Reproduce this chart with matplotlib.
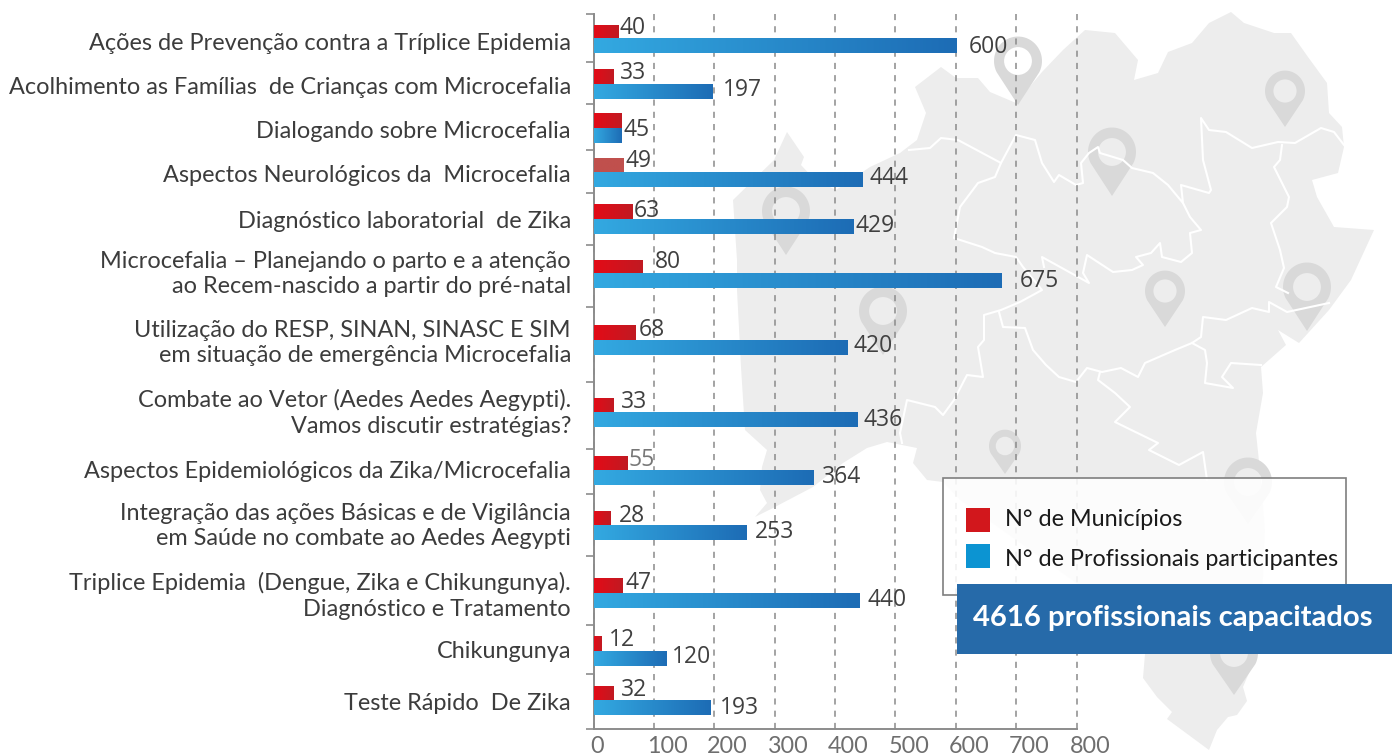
import numpy as np
import matplotlib
matplotlib.use('Agg')
import matplotlib.pyplot as plt
from matplotlib.patches import Polygon, Rectangle, PathPatch
from matplotlib.path import Path
from matplotlib.transforms import ScaledTranslation

W, H = 1392, 756

# --- data ---
categories = [
    'Ações de Prevenção contra a Tríplice Epidemia',
    'Acolhimento as Famílias  de Crianças com Microcefalia',
    'Dialogando sobre Microcefalia',
    'Aspectos Neurológicos da  Microcefalia',
    'Diagnóstico laboratorial  de Zika',
    'Microcefalia – Planejando o parto e a atenção\nao Recem-nascido a partir do pré-natal',
    'Utilização do RESP, SINAN, SINASC E SIM\nem situação de emergência Microcefalia',
    'Combate ao Vetor (Aedes Aedes Aegypti).\nVamos discutir estratégias?',
    'Aspectos Epidemiológicos da Zika/Microcefalia',
    'Integração das ações Básicas e de Vigilância\nem Saúde no combate ao Aedes Aegypti',
    'Triplice Epidemia  (Dengue, Zika e Chikungunya).\nDiagnóstico e Tratamento',
    'Chikungunya',
    'Teste Rápido  De Zika',
]
municipios = [40, 33, 45, 49, 63, 80, 68, 33, 55, 28, 47, 12, 32]
profissionais = [600, 197, 45, 444, 429, 675, 420, 436, 364, 253, 440, 120, 193]
xticks = [0, 100, 200, 300, 400, 500, 600, 700, 800]

# layout, in pixels of the picture
red_top = [25, 69, 113, 158, 204, 260, 325, 398, 456, 511, 578, 636, 686]
blue_top = [38, 84, 128, 172, 219, 273, 340, 412, 470, 525, 593, 651, 700]
bar_h = 15
label_y = [43, 87, 131, 176, 221, 274, 343, 413, 471, 526, 596, 651, 703]
red_lab_x = [620, 620, 0, 625, 634, 655, 639, 621, 628, 619, 625, 609, 621]
red_lab_y = [28, 73, 0, 161, 211, 262, 330, 402, 460, 516, 583, 640, 690]
blue_lab_x = [969, 723, 624, 870, 856, 1020, 853, 863, 822, 755, 867, 672, 720]
blue_lab_y = [47, 90, 130, 178, 226, 281, 346, 420, 477, 532, 600, 657, 708]
separators = [14, 62, 104, 150, 193, 245, 307, 382, 449, 494, 556, 625, 674, 729]

# rough outline of the state map and its inner borders
map_x = [915, 941, 956, 978, 990, 1016, 1042, 1063, 1085, 1115, 1138, 1134, 1158, 1168, 1192,
         1209, 1231, 1244, 1274, 1291, 1308, 1327, 1329, 1342, 1344, 1338, 1312, 1317, 1334,
         1374, 1351, 1329, 1299, 1278, 1286, 1261, 1263, 1256, 1261, 1265, 1262, 1257, 1243, 1247,
         1237, 1228, 1217, 1209, 1167, 1172, 1157, 1143, 1145, 1100, 960, 943, 927, 913, 917, 887,
         867, 843, 813, 773, 755, 767, 760, 762, 767, 745, 741, 737, 737, 733, 774, 787, 804, 801,
         815, 836, 870, 900, 917, 926]
map_y = [87, 67, 78, 78, 92, 103, 72, 50, 30, 33, 60, 80, 73, 52, 43,
         23, 12, 23, 33, 33, 57, 83, 113, 127, 147, 173, 180, 197, 227,
         230, 280, 310, 343, 330, 345, 367, 393, 433, 480, 530, 600, 654, 687, 701,
         715, 717, 730, 750, 719, 712, 697, 678, 654, 600, 500, 482, 480, 463, 448, 442,
         448, 463, 487, 508, 517, 503, 490, 467, 450, 430, 367, 290, 260, 200, 160, 132, 157, 165,
         180, 190, 167, 153, 140, 113]
borders = [
    ([909, 930, 941, 958, 1001, 995, 978, 960, 954, 982, 995, 1016, 1023, 1042, 1020, 1001, 984, 984,
      978, 983, 967, 954, 943, 935, 907, 900, 902],
     [150, 148, 138, 140, 163, 177, 183, 207, 238, 247, 253, 257, 267, 290, 302, 310, 315, 340,
      347, 377, 375, 400, 415, 407, 400, 433, 443]),
    ([1001, 1016, 1035, 1042, 1054, 1059, 1076, 1083, 1081, 1089, 1098, 1100, 1123, 1132, 1153, 1168,
      1183, 1181, 1209, 1211, 1203, 1201, 1209, 1226, 1252, 1278, 1295, 1321, 1334, 1344],
     [163, 135, 140, 163, 182, 175, 185, 183, 163, 153, 147, 153, 160, 168, 173, 185,
      203, 185, 193, 190, 160, 118, 130, 132, 148, 142, 143, 128, 132, 145]),
    ([1282, 1280, 1274, 1289, 1287, 1271, 1280, 1284, 1276, 1288],
     [145, 160, 167, 197, 207, 223, 250, 268, 287, 293]),
    ([1183, 1190, 1201, 1190, 1192, 1181, 1162, 1160, 1151, 1136, 1143, 1132, 1113, 1087, 1083, 1089,
      1042, 1044],
     [203, 217, 230, 233, 253, 262, 257, 243, 253, 257, 265, 270, 272, 255, 273, 283,
      257, 267]),
    ([1329, 1287, 1269, 1269, 1252, 1226, 1203, 1201, 1192, 1175, 1145, 1138, 1121, 1102, 1087, 1076,
      1059, 1046, 1033, 1025, 1003, 999],
     [303, 312, 302, 312, 308, 320, 317, 337, 343, 350, 363, 377, 368, 372, 368, 382,
      377, 365, 350, 328, 327, 312]),
    ([1192, 1205, 1207, 1205, 1233, 1222, 1231, 1261],
     [343, 350, 363, 383, 388, 377, 363, 365]),
    ([1100, 1098, 1115, 1130, 1115, 1158, 1149, 1179, 1203, 1207],
     [372, 380, 393, 407, 422, 443, 450, 465, 452, 480]),
]
# pin tip x, tip y, width, height
pins = [(1018, 105, 48, 68), (1285, 127, 40, 56), (1112, 196, 48, 68), (786, 255, 48, 68),
        (1165, 327, 40, 56), (1307, 331, 48, 68), (883, 355, 48, 68), (1005, 474, 32, 44),
        (1248, 524, 48, 66), (1234, 695, 48, 66)]


def add_gradient_bar(ax, top, v, c0, c1):
    bar = ax.barh(top + bar_h / 2, v, height=bar_h, color=c1, zorder=3)[0]
    grad = np.linspace(0, 1, 128)[None, :, None]
    rgb = np.array(matplotlib.colors.to_rgb(c0)) * (1 - grad) + np.array(matplotlib.colors.to_rgb(c1)) * grad
    im = ax.imshow(rgb, extent=(0, v, top + bar_h, top), aspect='auto', zorder=3.1, interpolation='bilinear')
    im.set_clip_path(bar)


def pin_path(tx, ty, pw, ph):
    r = pw / 2
    cy = ty - ph + r
    t = np.linspace(-np.pi * 0.15, np.pi * 1.15, 40)
    xs = list(tx + r * np.cos(t)) + [tx, tx]
    ys = list(cy - r * 1.02 * np.sin(t)) + [ty, ty]
    codes = [Path.MOVETO] + [Path.LINETO] * 40 + [Path.CLOSEPOLY]
    outer = Path(np.column_stack([xs, ys]), codes)
    hole = Path.circle((tx, cy), r * 0.58)
    return Path.make_compound_path(outer, hole)


def pixel_axes(zorder):
    a = fig.add_axes([0, 0, 1, 1], zorder=zorder)
    a.set_xlim(0, W)
    a.set_ylim(H, 0)
    a.axis('off')
    return a


fig = plt.figure(figsize=(W / 100, H / 100), dpi=100, facecolor='white')
plt.rcParams['font.family'] = ['Lato', 'DejaVu Sans']

# background map
bg = pixel_axes(0)
bg.add_patch(Polygon(np.column_stack([map_x, map_y]), closed=True, fc='#ededed', ec='none'))
for bx, by in borders:
    bg.plot(bx, by, color='white', lw=1.5)
for tx, ty, pw, ph in pins:
    bg.add_patch(PathPatch(pin_path(tx, ty, pw, ph), fc='#d9d9d9', ec='none'))

# chart axes
ax = fig.add_axes([593.5 / W, 1 - 729 / H, 483 / W, (729 - 14) / H], zorder=1)
ax.patch.set_alpha(0)
for s in ['top', 'right']:
    ax.spines[s].set_visible(False)
for s in ['left', 'bottom']:
    ax.spines[s].set_color('#8c8c8c')
    ax.spines[s].set_linewidth(1.4)
ax.xaxis.grid(True, color='#8a8a8a', ls=(0, (4, 4)), lw=1.1, zorder=1, clip_on=False)
ax.set_axisbelow(True)
ax.set_xticks(xticks)
ax.tick_params(axis='x', length=0, pad=5, labelsize=16.8, labelcolor='#6e6e6e')
ax.set_yticks(separators)
ax.set_yticklabels([])
ax.tick_params(axis='y', length=6, width=1.2, color='#8c8c8c')

# texts of the rows sit above the bars
labels_ax = pixel_axes(1.5)

for i, cat in enumerate(categories):
    fc0 = '#e30b17'
    fc1 = '#c11a22'
    if i == 3:
        fc0 = fc1 = '#c0504d'
    add_gradient_bar(ax, red_top[i], municipios[i], fc0, fc1)
    add_gradient_bar(ax, blue_top[i], profissionais[i], '#33a9e1', '#1d6cb5')

    # the third row has one label for both of its equal bars
    if i != 2:
        labels_ax.text(red_lab_x[i], red_lab_y[i], str(municipios[i]), fontsize=16.5,
                       color='#777777' if i == 8 else '#404040', va='center', ha='left',
                       family=['Open Sans', 'DejaVu Sans'])
    labels_ax.text(blue_lab_x[i], blue_lab_y[i], str(profissionais[i]), fontsize=16.5,
                   color='#404040', va='center', ha='left',
                   family=['Open Sans', 'DejaVu Sans'])
    labels_ax.text(571, label_y[i], cat, fontsize=16.9, color='#3c3c3c', ha='right', va='center',
                   linespacing=1.28)

ax.set_xlim(0, 800)
ax.set_ylim(729, 14)

for i, lab in enumerate(ax.get_xticklabels()):
    lab.set_ha('left')
    shift = -3 if i == 0 else -7
    lab.set_transform(lab.get_transform() + ScaledTranslation(shift / 100, 0, fig.dpi_scale_trans))

# legend box and banner, on top of the chart
top = pixel_axes(2)
top.add_patch(Rectangle((942.5, 477.5), 403, 117, fc=(1, 1, 1, 0.88), ec='#7f7f7f', lw=1.2))
top.add_patch(Rectangle((966, 508), 24, 24, fc='#d2171c', ec='none'))
top.add_patch(Rectangle((966, 544), 24, 24, fc='#0c94d2', ec='none'))
top.text(1005, 519, 'N° de Municípios', fontsize=16.8, color='#1a1a1a', va='center')
top.text(1005, 559, 'N° de Profissionais participantes', fontsize=16.8, color='#1a1a1a', va='center')
top.add_patch(Rectangle((957, 584), 435, 70, fc='#266aa9', ec='none'))
top.text(973, 618, '4616 profissionais capacitados', fontsize=21.1, fontweight='bold', color='white', va='center')

fig.savefig('out.png', dpi=100)
